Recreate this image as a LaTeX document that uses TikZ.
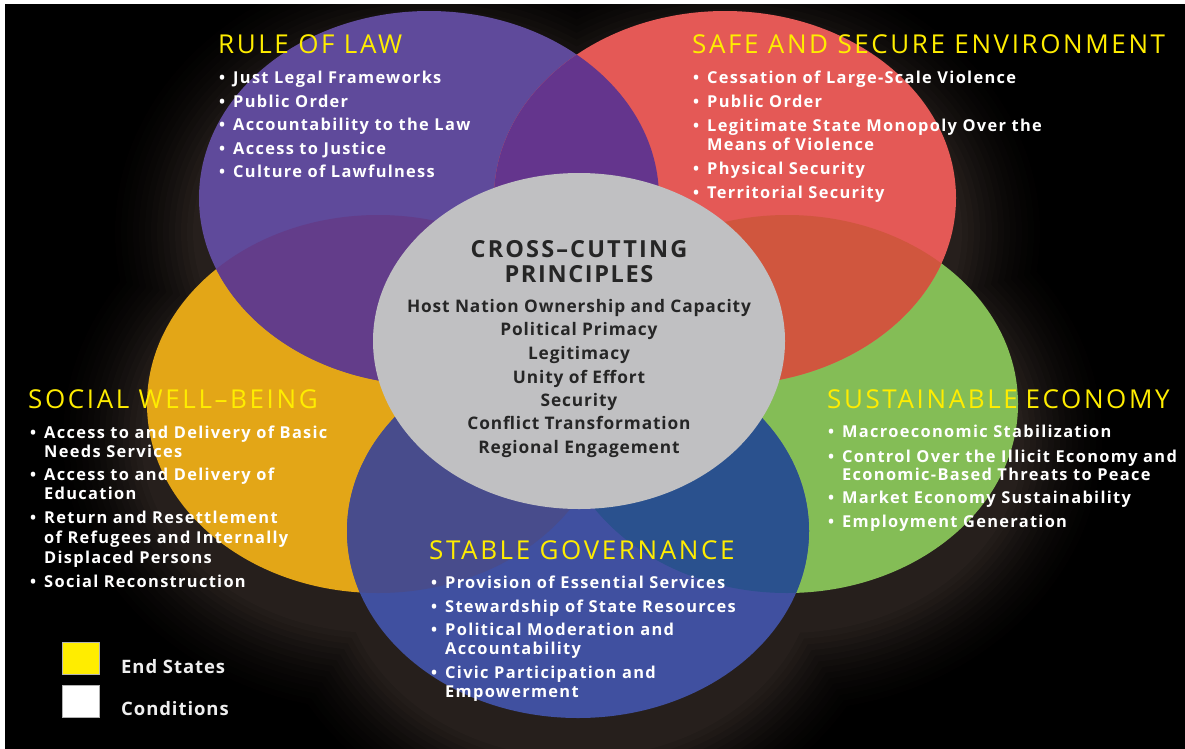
\documentclass[tikz,border=0pt]{standalone}
\usepackage{fontspec}
\setmainfont{Open Sans}
\newfontfamily\ttlf[LetterSpace=10]{Open Sans}
\newfontfamily\itf[LetterSpace=8]{Open Sans}
\newfontfamily\ctf[LetterSpace=7]{Open Sans}
\newfontfamily\ctfw[LetterSpace=9]{Open Sans}
\newfontfamily\cif[LetterSpace=5]{Open Sans}
\definecolor{cbg}{RGB}{0,0,0}
\definecolor{cP}{RGB}{95,74,155}
\definecolor{cR}{RGB}{228,89,86}
\definecolor{cO}{RGB}{227,166,23}
\definecolor{cG}{RGB}{132,189,86}
\definecolor{cB}{RGB}{64,80,160}
\definecolor{cC}{RGB}{192,192,194}
\definecolor{cPR}{RGB}{100,53,141}
\definecolor{cPO}{RGB}{99,61,138}
\definecolor{cRG}{RGB}{208,86,62}
\definecolor{cOB}{RGB}{72,76,140}
\definecolor{cGB}{RGB}{42,81,142}
\definecolor{glowc}{RGB}{52,42,38}
\definecolor{ttly}{RGB}{255,237,0}
\definecolor{ctext}{RGB}{38,38,38}
\definecolor{legt}{RGB}{238,238,238}
\tikzset{
  ellP/.style={insert path={(429,198) ellipse [x radius=230pt, y radius=187pt]}},
  ellR/.style={insert path={(725,198) ellipse [x radius=231pt, y radius=187pt]}},
  ellO/.style={insert path={(378,404) ellipse [x radius=231pt, y radius=189pt]}},
  ellG/.style={insert path={(787,404) ellipse [x radius=231pt, y radius=189pt]}},
  ellB/.style={insert path={(578,531) ellipse [x radius=231pt, y radius=187pt]}},
  ellC/.style={insert path={(579,341) ellipse [x radius=206pt, y radius=168pt]}},
  ttl/.style={anchor=base west, inner sep=0pt, text=ttly, font=\ttlf\fontsize{26}{28}\selectfont},
  itm/.style={anchor=base west, inner sep=0pt, text=white, font=\itf\bfseries\fontsize{16.4}{18}\selectfont},
  bul/.style={anchor=base west, inner sep=0pt, text=white, font=\itf\bfseries\fontsize{16}{18}\selectfont},
  ctitle/.style={anchor=base, inner sep=0pt, text=ctext, font=\ctf\bfseries\fontsize{23.5}{26}\selectfont},
  ctitlew/.style={anchor=base, inner sep=0pt, text=ctext, font=\ctfw\bfseries\fontsize{23.5}{26}\selectfont},
  citem/.style={anchor=base, inner sep=0pt, text=ctext, font=\cif\bfseries\fontsize{17.3}{20}\selectfont},
  legbox/.style={draw=gray!60, line width=0.6pt},
  legtxt/.style={anchor=base west, inner sep=0pt, text=legt, font=\cif\bfseries\fontsize{18.5}{20}\selectfont},
}
\begin{document}
\begin{tikzpicture}[x=1pt, y=-1pt]
\useasboundingbox (0,0) rectangle (1185,748);
\fill[white] (0,0) rectangle (1185,748);
\fill[cbg] (5,4) rectangle (1200,760);
% soft glow behind the circles
\begin{scope}
\clip (5,4) rectangle (1200,760);
\foreach \d/\c in {84/3,78/6,72/9,66/13,60/17,54/22,48/27,42/33,36/39,30/45,24/52,18/59,12/66,6/73}{
  \fill[glowc!\c!black]
    (429,{198+34}) ellipse [x radius={(230+\d)*1pt}, y radius={(187+\d)*1pt}]
    (725,{198+34}) ellipse [x radius={(231+\d)*1pt}, y radius={(187+\d)*1pt}]
    (378,{404+34}) ellipse [x radius={(231+\d)*1pt}, y radius={(189+\d)*1pt}]
    (787,{404+34}) ellipse [x radius={(231+\d)*1pt}, y radius={(189+\d)*1pt}]
    (578,{531+34}) ellipse [x radius={(231+\d)*1pt}, y radius={(187+\d)*1pt}];
}
\end{scope}
% base circles
\fill[cO, ellO];
\fill[cG, ellG];
\fill[cB, ellB];
\fill[cP, ellP];
\fill[cR, ellR];
% overlaps
\begin{scope}\clip[ellP]; \fill[cPR, ellR]; \end{scope}
\begin{scope}\clip[ellP]; \fill[cPO, ellO]; \end{scope}
\begin{scope}\clip[ellR]; \fill[cRG, ellG]; \end{scope}
\begin{scope}\clip[ellO]; \fill[cOB, ellB]; \end{scope}
\begin{scope}\clip[ellG]; \fill[cGB, ellB]; \end{scope}
% centre
\fill[cC, ellC];

% Rule of law
\node[ttl] (t1) at (218,53) {RULE OF LAW};
\node[bul] (b11) at (219,83) {\textbullet}; \node[itm] (i11) at (233,83) {Just Legal Frameworks};
\node[bul] (b12) at (219,107) {\textbullet}; \node[itm] (i12) at (233,107) {Public Order};
\node[bul] (b13) at (219,130) {\textbullet}; \node[itm] (i13) at (233,130) {Accountability to the Law};
\node[bul] (b14) at (219,154) {\textbullet}; \node[itm] (i14) at (233,154) {Access to Justice};
\node[bul] (b15) at (219,177) {\textbullet}; \node[itm] (i15) at (233,177) {Culture of Lawfulness};

% Safe and secure environment
\node[ttl] (t2) at (692,53) {SAFE AND SECURE ENVIRONMENT};
\node[bul] (b21) at (693,83) {\textbullet}; \node[itm] (i21) at (707,83) {Cessation of Large-Scale Violence};
\node[bul] (b22) at (693,107) {\textbullet}; \node[itm] (i22) at (707,107) {Public Order};
\node[bul] (b23) at (693,131) {\textbullet}; \node[itm] (i23) at (707,131) {Legitimate State Monopoly Over the};
\node[itm] (i23b) at (707,150) {Means of Violence};
\node[bul] (b24) at (693,174) {\textbullet}; \node[itm] (i24) at (707,174) {Physical Security};
\node[bul] (b25) at (693,198) {\textbullet}; \node[itm] (i25) at (707,198) {Territorial Security};

% Social well-being
\node[ttl] (t3) at (28,408) {SOCIAL WELL–BEING};
\node[bul] (b31) at (30,438) {\textbullet}; \node[itm] (i31) at (44,438) {Access to and Delivery of Basic};
\node[itm] (i31b) at (44,457) {Needs Services};
\node[bul] (b32) at (30,480) {\textbullet}; \node[itm] (i32) at (44,480) {Access to and Delivery of};
\node[itm] (i32b) at (44,499) {Education};
\node[bul] (b33) at (30,523) {\textbullet}; \node[itm] (i33) at (44,523) {Return and Resettlement};
\node[itm] (i33b) at (44,543) {of Refugees and Internally};
\node[itm] (i33c) at (44,563) {Displaced Persons};
\node[bul] (b34) at (30,587) {\textbullet}; \node[itm] (i34) at (44,587) {Social Reconstruction};

% Sustainable economy
\node[ttl] (t4) at (827,408) {SUSTAINABLE\hspace{0.3em}ECONOMY};
\node[bul] (b41) at (828,437) {\textbullet}; \node[itm] (i41) at (842,437) {Macroeconomic Stabilization};
\node[bul] (b42) at (828,462) {\textbullet}; \node[itm] (i42) at (842,462) {Control Over the Illicit Economy and};
\node[itm] (i42b) at (842,480) {Economic-Based Threats to Peace};
\node[bul] (b43) at (828,503) {\textbullet}; \node[itm] (i43) at (842,503) {Market Economy Sustainability};
\node[bul] (b44) at (828,527) {\textbullet}; \node[itm] (i44) at (842,527) {Employment Generation};

% Stable governance
\node[ttl] (t5) at (429,559) {STABLE GOVERNANCE};
\node[bul] (b51) at (431,588) {\textbullet}; \node[itm] (i51) at (445,588) {Provision of Essential Services};
\node[bul] (b52) at (431,612) {\textbullet}; \node[itm] (i52) at (445,612) {Stewardship of State Resources};
\node[bul] (b53) at (431,635) {\textbullet}; \node[itm] (i53) at (445,635) {Political Moderation and};
\node[itm] (i53b) at (445,654) {Accountability};
\node[bul] (b54) at (431,678) {\textbullet}; \node[itm] (i54) at (445,678) {Civic Participation and};
\node[itm] (i54b) at (445,697) {Empowerment};

% Cross-cutting principles
\node[ctitlew] (c0a) at (579,257) {CROSS–CUTTING};
\node[ctitle] (c0b) at (579,282) {PRINCIPLES};
\node[citem] (c1) at (579,312) {Host Nation Ownership and Capacity};
\node[citem] (c2) at (579,335) {Political Primacy};
\node[citem] (c3) at (579,359) {Legitimacy};
\node[citem] (c4) at (579,383) {Unity of Effort};
\node[citem] (c5) at (579,406) {Security};
\node[citem] (c6) at (579,429) {Conflict Transformation};
\node[citem] (c7) at (579,453) {Regional Engagement};

% Legend
\fill[ttly] (62,642) rectangle (99,674);
\draw[legbox] (62,642) rectangle (99,674);
\fill[white] (62,685) rectangle (99,717);
\draw[legbox] (62,685) rectangle (99,717);
\node[legtxt] (l1) at (121,673) {End States};
\node[legtxt] (l2) at (121,715) {Conditions};
\end{tikzpicture}
\end{document}
